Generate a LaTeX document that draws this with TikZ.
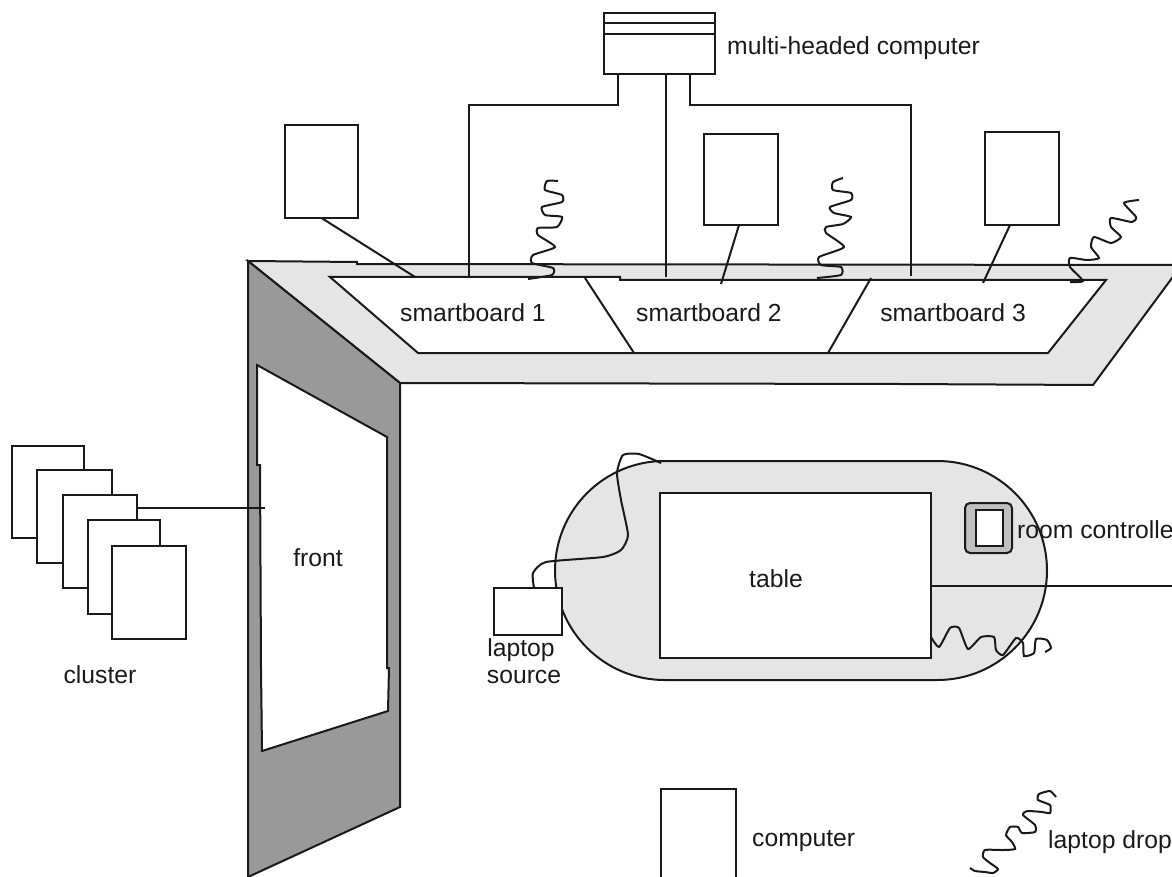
\documentclass[tikz,border=0pt]{standalone}
\usepackage{fontspec}
\setmainfont{Liberation Sans}
\usepackage{tikz}
\usetikzlibrary{calc,shapes.misc}
\definecolor{wall}{HTML}{E5E5E5}
\definecolor{front}{HTML}{999999}
\definecolor{bezel}{HTML}{C0C0C0}
\definecolor{ink}{HTML}{1A1A1A}
\tikzset{
  box/.style={draw=ink,line width=2pt,fill=white,inner sep=0pt,outer sep=0pt,anchor=north west},
  wire/.style={draw=ink,line width=2pt},
  wiggle/.style={draw=ink,line width=2pt,smooth,tension=0.35},
  surface/.style={draw=ink,line width=2pt,line join=miter},
  lbl/.style={font=\fontsize{24.7}{26}\selectfont,text=ink,inner sep=0pt},
  lbw/.style={lbl,anchor=west}
}
\begin{document}
\begin{tikzpicture}[x=1pt,y=-1pt]
 \useasboundingbox (0,0) rectangle (1172,877);
 \clip (0,0) rectangle (1172,877);
 \draw[surface,fill=wall] (248,261)--(357,262)--(357,264)--(1180,265)--(1172,278)--(1093,385)--(900,384)--(400,383)--cycle;
 \draw[surface,fill=white] (330,277)--(620,277)--(620,280)--(1106,280)--(1048,353)--(418,353)--cycle;
 \draw[surface,fill=front] (248,261)--(400,383)--(400,807)--(248,877)--cycle;
 \draw[surface,fill=white] (257,365)--(387,437)--(387,668)--(389,668)--(388,711)--(262,751)--(261,668)--(260,465)--(257,465)--cycle;
 \coordinate (sb1top) at (585,278); \coordinate (sb1bot) at (634,353);
 \coordinate (sb2top) at (871,278); \coordinate (sb2bot) at (828,353);
 \draw[wire] (sb1top)--(sb1bot); \draw[wire] (sb2top)--(sb2bot);

 \node[box,minimum width=111,minimum height=61] (head) at (604,13) {};
 \draw[wire] ($(head.north west)+(0,10)$)--($(head.north east)+(0,10)$);
 \draw[wire] ($(head.north west)+(0,21)$)--($(head.north east)+(0,21)$);
 \node[lbw] (headlbl) at (727,48) {multi-headed computer};
 \node[box,minimum width=73,minimum height=93] (mon1) at (285,125) {};
 \node[box,minimum width=74,minimum height=91] (mon2) at (704,134) {};
 \node[box,minimum width=74,minimum height=93] (mon3) at (985,132) {};
 \coordinate (in1) at (469,277); \coordinate (in2) at (666,277); \coordinate (in3) at (911,276);
 \coordinate (feed1) at (415,277); \coordinate (feed2) at (721,284); \coordinate (feed3) at (983,283);
 \draw[wire] ($(head.south)+(-41.5,0)$)--++(0,31)-|(in1);
 \draw[wire] (head.south -| in2)--(in2);
 \draw[wire] ($(head.south)+(30.5,0)$)--++(0,31)-|(in3);
 \draw[wire] (mon1.south)--(feed1);
 \draw[wire] ($(mon2.south)+(-2,0)$)--(feed2);
 \draw[wire] ($(mon3.south)+(-12,0)$)--(feed3);
 \draw[wiggle] plot coordinates {(558,181)(547,181)(545,190)(562,195)(562,202)(542,207)(545,215)(562,217)(557,227)(538,228)(538,235)(555,247)(533,255)(532,263)(553,268)(552,275)(528,279)};
 \draw[wiggle] plot coordinates {(843,178)(833,182)(833,190)(851,193)(851,200)(830,207)(834,213)(851,217)(843,224)(826,227)(826,233)(844,247)(819,257)(821,265)(841,267)(841,275)(817,278)};
 \draw[wiggle] plot coordinates {(1139,200)(1124,203)(1136,217)(1132,222)(1111,218)(1111,227)(1121,237)(1111,243)(1094,237)(1091,247)(1099,258)(1087,260)(1070,258)(1070,267)(1083,281)(1070,282)};
 \node[lbl] (sb1lbl) at (473,313) {smartboard 1};
 \node[lbl] (sb2lbl) at (709,313) {smartboard 2};
 \node[lbl] (sb3lbl) at (953,313) {smartboard 3};
 \node[lbl] (frontlbl) at (318,558) {front};

 \node[box,minimum width=72,minimum height=92] (page1) at (12,446) {};
 \node[box,minimum width=75,minimum height=93] (page2) at (37,470) {};
 \node[box,minimum width=74,minimum height=93] (page3) at (63,495) {};
 \node[box,minimum width=72,minimum height=94] (page4) at (88,520) {};
 \node[box,minimum width=74,minimum height=93] (page5) at (112,546) {};
 \node[lbl] (clusterlbl) at (100,675) {cluster};
 \coordinate (frontin) at (265,508);
 \draw[wire] (page3.east |- frontin)--(frontin);

 \node[rounded rectangle,draw=ink,line width=2pt,fill=wall,inner sep=0pt,minimum width=492,minimum height=219] (ring) at (801,570.5) {};
 \node[box,minimum width=271,minimum height=165] (tablebox) at (660,493) {};
 \node[lbl] (tablelbl) at (776,579) {table};
 \node[box,fill=bezel,rounded corners=5pt,minimum width=47,minimum height=50] (ctrl) at (965,503) {};
 \node[box,minimum width=27,minimum height=36] (ctrlin) at (976,510) {};
 \node[lbw] (ctrllbl) at (1017,530) {room controller};
 \coordinate (tableout) at (1172,586);
 \draw[wire] (tablebox.east |- tableout)--(tableout);
 \node[box,minimum width=68,minimum height=47] (laptop) at (494,588) {};
 \node[lbl] (laptoplbl) at (521,650) {laptop};
 \node[lbl] (sourcelbl) at (524,677) {source};
 \coordinate (cablein) at (661,463);
 \draw[wiggle] plot coordinates {(534,588)(533,573)(546,562)(603,557)(621,550)(628,535)(621,500)(617,473)(623,455)(639,454)(cablein)};
 \draw[wiggle] plot coordinates {(931,637)(939,647)(950,628)(959,628)(968,649)(981,637)(994,637)(996,650)(1003,655)(1016,638)(1023,643)(1024,656)(1034,653)(1036,639)(1047,640)(1051,648)(1045,652)};

 \node[box,minimum width=75,minimum height=100] (legendpc) at (661,789) {};
 \node[lbw] (legendpclbl) at (752,841) {computer};
 \draw[wiggle] plot coordinates {(970,868)(975,871)(985,872)(993,873)(998,869)(990,863)(983,857)(985,850)(1003,850)(1015,849)(1012,842)(1006,835)(1010,827)(1018,827)(1022,833)(1035,832)(1035,825)(1023,815)(1027,811)(1042,812)(1050,813)(1050,805)(1038,800)(1039,794)(1050,791)(1056,797)};
 \node[lbw] (droplbl) at (1048,842) {laptop drop};
\end{tikzpicture}
\end{document}
